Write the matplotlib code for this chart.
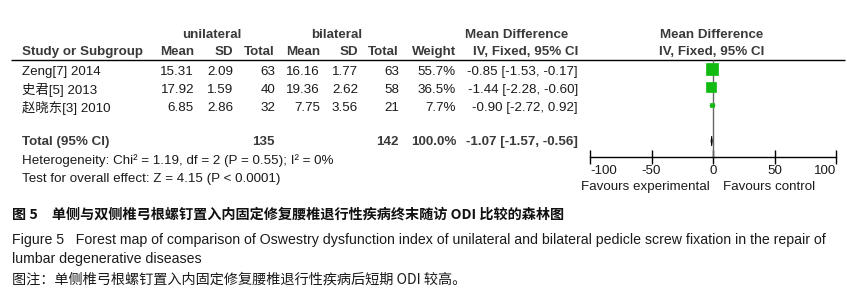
import matplotlib
matplotlib.use("Agg")
import matplotlib.pyplot as plt
import numpy as np

# ---------------- data ----------------
studies = ["Zeng[7] 2014", "史君[5] 2013", "赵晓东[3] 2010"]
uni_mean = [15.31, 17.92, 6.85]
uni_sd = [2.09, 1.59, 2.86]
uni_n = [63, 40, 32]
bi_mean = [16.16, 19.36, 7.75]
bi_sd = [1.77, 2.62, 3.56]
bi_n = [63, 58, 21]
weights = [55.7, 36.5, 7.7]
md = [-0.85, -1.44, -0.90]
md_lo = [-1.53, -2.28, -2.72]
md_hi = [-0.17, -0.60, 0.92]
total_uni = 135
total_bi = 142
total_weight = 100.0
total_md = -1.07
total_lo = -1.57
total_hi = -0.56
xticks = [-100, -50, 0, 50, 100]
heterogeneity = "Heterogeneity: Chi² = 1.19, df = 2 (P = 0.55); I² = 0%"
overall = "Test for overall effect: Z = 4.15 (P < 0.0001)"
cap_cn = "图 5　单侧与双侧椎弓根螺钉置入内固定修复腰椎退行性疾病终末随访 ODI 比较的森林图"
cap_en1 = "Figure 5   Forest map of comparison of Oswestry dysfunction index of unilateral and bilateral pedicle screw fixation in the repair of"
cap_en2 = "lumbar degenerative diseases"
cap_note = "图注：单侧椎弓根螺钉置入内固定修复腰椎退行性疾病后短期 ODI 较高。"

# ---------------- layout ----------------
W, H = 847, 299
FAM = ["Liberation Sans", "Noto Sans CJK SC"]
CJK = ["Noto Sans CJK SC", "Liberation Sans"]
TXT = "#1a1a1a"
HDR = "#3a3a3a"
FS = 9.6

fig = plt.figure(figsize=(W / 100, H / 100), dpi=100)
ax = fig.add_axes([0, 0, 1, 1])
ax.set_xlim(0, W)
ax.set_ylim(H, 0)
ax.axis("off")

def t(x, y, s, ha="left", bold=False, color=TXT, fs=FS, fam=FAM):
    ax.text(x, y, s, ha=ha, va="center", fontsize=fs, family=fam,
            fontweight="bold" if bold else "normal", color=color)

# headers
t(212, 35, "unilateral", "center", True, HDR)
t(337, 35, "bilateral", "center", True, HDR)
t(517, 35, "Mean Difference", "center", True, HDR)
t(712, 35, "Mean Difference", "center", True, HDR)
hy = 52
t(22, hy, "Study or Subgroup", "left", True, HDR)
t(194, hy, "Mean", "right", True, HDR)
t(233, hy, "SD", "right", True, HDR)
t(275, hy, "Total", "right", True, HDR)
t(320, hy, "Mean", "right", True, HDR)
t(358, hy, "SD", "right", True, HDR)
t(399, hy, "Total", "right", True, HDR)
t(456, hy, "Weight", "right", True, HDR)
t(578, hy, "IV, Fixed, 95% CI", "right", True, HDR)
t(712, hy, "IV, Fixed, 95% CI", "center", True, HDR)
ax.plot([11, 845], [60, 60], color="black", lw=1.0, solid_capstyle="butt")

row_y = [72, 90, 108]
for i, s in enumerate(studies):
    y = row_y[i]
    t(22, y, s)
    t(194, y, f"{uni_mean[i]:.2f}", "right")
    t(233, y, f"{uni_sd[i]:.2f}", "right")
    t(275, y, f"{uni_n[i]}", "right")
    t(320, y, f"{bi_mean[i]:.2f}", "right")
    t(358, y, f"{bi_sd[i]:.2f}", "right")
    t(399, y, f"{bi_n[i]}", "right")
    t(456, y, f"{weights[i]:.1f}%", "right")
    t(578, y, f"{md[i]:.2f} [{md_lo[i]:.2f}, {md_hi[i]:.2f}]", "right")

ty = 142
t(22, ty, "Total (95% CI)", "left", True, HDR)
t(275, ty, f"{total_uni}", "right", True, HDR)
t(399, ty, f"{total_bi}", "right", True, HDR)
t(456, ty, f"{total_weight:.1f}%", "right", True, HDR)
t(578, ty, f"{total_md:.2f} [{total_lo:.2f}, {total_hi:.2f}]", "right", True, HDR)
t(22, 161, heterogeneity)
t(22, 179, overall)

# captions
t(12, 215, cap_cn, bold=True, fam=CJK, fs=10.2, color="#111111")
t(12, 240, cap_en1, fam=FAM, fs=10.2)
t(12, 259, cap_en2, fam=FAM, fs=10.2)
t(12, 280, cap_note, fam=CJK, fs=10.2)

# ---------------- forest plot ----------------
x0, x1 = 590, 836
fx = fig.add_axes([x0 / W, 0, (x1 - x0) / W, 1])
fx.set_xlim(xticks[0], xticks[-1])
fx.set_ylim(H, 0)
fx.patch.set_alpha(0)
for sp in ["top", "left", "right"]:
    fx.spines[sp].set_visible(False)
fx.spines["bottom"].set_position(("data", 157))
fx.spines["bottom"].set_bounds(xticks[0], xticks[-1])
fx.spines["bottom"].set_linewidth(1.0)
fx.set_yticks([])
fx.set_xticks(xticks)
fx.set_xticklabels([str(v) for v in xticks], family=FAM, fontsize=FS, color=TXT)
fx.tick_params(axis="x", direction="inout", length=10, width=1.0, pad=1)
labs = fx.get_xticklabels()
labs[0].set_ha("left")
labs[-1].set_ha("right")
for lab in labs:
    lab.set_clip_on(False)

fx.vlines(0, 60, 157, color="#666666", lw=1.0)
off = -3.5
for i in range(len(studies)):
    y = row_y[i] + off
    fx.plot([md_lo[i], md_hi[i]], [y, y], color="black", lw=1.0)
    size = 1.1 * np.sqrt(weights[i])  # points
    fx.plot(md[i], y, marker="s", ms=size, color="#11bb11", mec="#11bb11", mew=0.5)
yc = ty - 1
dia_x = [total_lo, total_md, total_hi, total_md]
dia_y = [yc, yc - 5, yc, yc + 5]
fx.fill(dia_x, dia_y, color="black", lw=0.6)

fx.text(-3, 187, "Favours experimental", ha="right", va="center",
        fontsize=FS, family=FAM, color=TXT)
fx.text(8, 187, "Favours control", ha="left", va="center",
        fontsize=FS, family=FAM, color=TXT)

fig.savefig("out.png", dpi=100)
